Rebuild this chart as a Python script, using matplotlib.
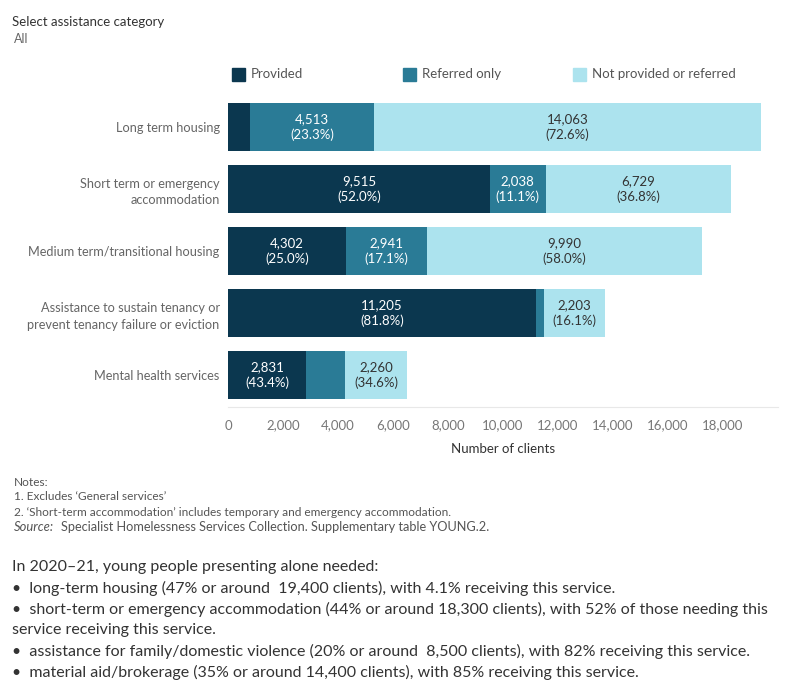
import matplotlib.pyplot as plt
import numpy as np

plt.rcParams['font.family'] = ['Lato', 'DejaVu Sans']

categories = ['Long term housing',
              'Short term or emergency\naccommodation',
              'Medium term/transitional housing',
              'Assistance to sustain tenancy or\nprevent tenancy failure or eviction',
              'Mental health services']
provided = [793, 9515, 4302, 11205, 2831]
referred = [4513, 2038, 2941, 290, 1432]
not_provided = [14063, 6729, 9990, 2203, 2260]
provided_pct = [4.1, 52.0, 25.0, 81.8, 43.4]
referred_pct = [23.3, 11.1, 17.1, 2.1, 22.0]
not_provided_pct = [72.6, 36.8, 58.0, 16.1, 34.6]
series_names = ['Provided', 'Referred only', 'Not provided or referred']
xticks = [0, 2000, 4000, 6000, 8000, 10000, 12000, 14000, 16000, 18000]

colors = ['#0b374f', '#2a7b96', '#ace3ee']
text_colors = ['white', 'white', '#333333']

W, H = 800, 700
fig = plt.figure(figsize=(8, 7), dpi=100)
# axes in pixel terms: x 228..778, y 95..407
ax = fig.add_axes([228 / W, 1 - 407 / H, 550 / W, 312 / H])

y = np.arange(len(categories))
left = np.zeros(len(categories))
for vals, pcts, c, tc in zip([provided, referred, not_provided],
                             [provided_pct, referred_pct, not_provided_pct],
                             colors, text_colors):
    ax.barh(y, vals, left=left, height=0.77, color=c)
    for i, (v, p) in enumerate(zip(vals, pcts)):
        if v > 1800:
            ax.text(left[i] + v / 2, y[i], '{:,}\n({:.1f}%)'.format(v, p),
                    ha='center', va='center', color=tc, fontsize=9.5,
                    linespacing=1.25)
    left += np.array(vals)

ax.set_xlim(0, 20000)
ax.set_ylim(4.516, -0.516)
ax.set_yticks(y)
ax.set_yticklabels(categories, fontsize=9.2, color='#666666', linespacing=1.45)
ax.set_xticks(xticks)
ax.set_xticklabels(['{:,}'.format(t) for t in xticks], fontsize=9.5, color='#777777')
ax.tick_params(length=0, pad=9)
ax.tick_params(axis='y', pad=6)
for s in ['top', 'right', 'left']:
    ax.spines[s].set_visible(False)
ax.spines['bottom'].set_color('#e8e8e8')
ax.set_xlabel('Number of clients', fontsize=9.5, color='#333333', labelpad=8)

# legend
for name, c, lx in zip(series_names, colors, [232, 403, 573]):
    fig.patches.append(plt.Rectangle((lx / W, 1 - 81 / H), 13 / W, 13 / H,
                                     transform=fig.transFigure, color=c))
    fig.text((lx + 19) / W, 1 - 74 / H, name, fontsize=9.5, color='#555555',
             va='center')

fig.text(12 / W, 1 - 22 / H, 'Select assistance category', fontsize=9.5,
         color='#333333', va='center')
fig.text(14 / W, 1 - 39 / H, 'All', fontsize=9, color='#666666', va='center')

# notes
note_kw = dict(fontsize=8.6, color='#555555', va='center')
fig.text(14 / W, 1 - 482 / H, 'Notes:', **note_kw)
fig.text(14 / W, 1 - 497 / H, "1. Excludes \u2018General services\u2019", **note_kw)
fig.text(14 / W, 1 - 512 / H,
         "2. \u2018Short-term accommodation\u2019 includes temporary and emergency accommodation.",
         **note_kw)
fig.text(14 / W, 1 - 527 / H, 'Source:', style='italic', fontsize=9.4,
         color='#555555', va='center')
fig.text(61 / W, 1 - 527 / H,
         'Specialist Homelessness Services Collection. Supplementary table YOUNG.2.',
         fontsize=9.2, color='#555555', va='center')

# summary text
summary = [
    'In 2020\u201321, young people presenting alone needed:',
    '\u2022  long-term housing (47% or around  19,400 clients), with 4.1% receiving this service.',
    '\u2022  short-term or emergency accommodation (44% or around 18,300 clients), with 52% of those needing this',
    'service receiving this service.',
    '\u2022  assistance for family/domestic violence (20% or around  8,500 clients), with 82% receiving this service.',
    '\u2022  material aid/brokerage (35% or around 14,400 clients), with 85% receiving this service.',
]
for k, line in enumerate(summary):
    fig.text(12 / W, 1 - (567 + k * 21) / H, line, fontsize=11.5,
             color='#333333', va='center')

fig.savefig('out.png', dpi=100)
